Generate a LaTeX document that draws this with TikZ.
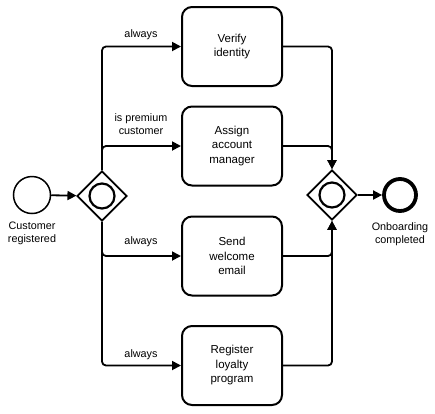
\documentclass[tikz,border=0pt]{standalone}
\usepackage{fontspec}
\setmainfont{Liberation Sans}
\usetikzlibrary{shapes.geometric,arrows.meta}
\begin{document}
\begin{tikzpicture}[x=1pt,y=-1pt,
  task/.style={draw,line width=2pt,rounded corners=10pt,minimum width=100pt,minimum height=79pt,align=center,inner sep=0pt,font=\fontsize{11.5}{14.5}\selectfont},
  gw/.style={draw,diamond,line width=1.8pt,minimum width=50pt,minimum height=50pt,inner sep=0pt},
  flow/.style={line width=1.8pt,rounded corners=4pt,-{Triangle[length=9pt,width=9pt]}},
  lbl/.style={align=center,font=\fontsize{10.8}{13}\selectfont,inner sep=0pt}]
\useasboundingbox (0,0) rectangle (435,413);
\node[draw,circle,line width=1.5pt,minimum size=37pt,inner sep=0pt] (start) at (32,195) {};
\node[lbl,anchor=north] (startl) at (32,222) {Customer\\registered};
\node[gw] (g1) at (102,196) {};
\draw[line width=2.2pt] (g1.center) circle (12.5pt);
\node[task] (verify) at (232,46.5) {Verify\\identity};
\node[task] (assign) at (232,146) {Assign\\account\\manager};
\node[task] (send) at (232,256) {Send\\welcome\\email};
\node[task] (reg) at (232,365.5) {Register\\loyalty\\program};
\node[gw] (g2) at (332,195) {};
\draw[line width=2.2pt] (g2.center) circle (12.5pt);
\node[draw,circle,line width=3.8pt,minimum size=32pt,inner sep=0pt] (end) at (400,195) {};
\node[lbl,anchor=north] (endl) at (400,222) {Onboarding\\completed};
\draw[flow] (start) -- (g1);
\draw[flow] (g1.north) |- (verify.west);
\draw[flow] (g1.north) |- (assign.west);
\draw[flow] (g1.south) |- (send.west);
\draw[flow] (g1.south) |- (reg.west);
\draw[flow] (verify.east) -| (g2.north);
\draw[flow] (assign.east) -| (g2.north);
\draw[flow] (send.east) -| (g2.south);
\draw[flow] (reg.east) -| (g2.south);
\draw[flow] (g2) -- (end);
\node[lbl] (l1) at (141,35) {always};
\node[lbl] (l2) at (141,124.5) {is premium\\customer};
\node[lbl] (l3) at (141,242) {always};
\node[lbl] (l4) at (141,355) {always};
\end{tikzpicture}
\end{document}
